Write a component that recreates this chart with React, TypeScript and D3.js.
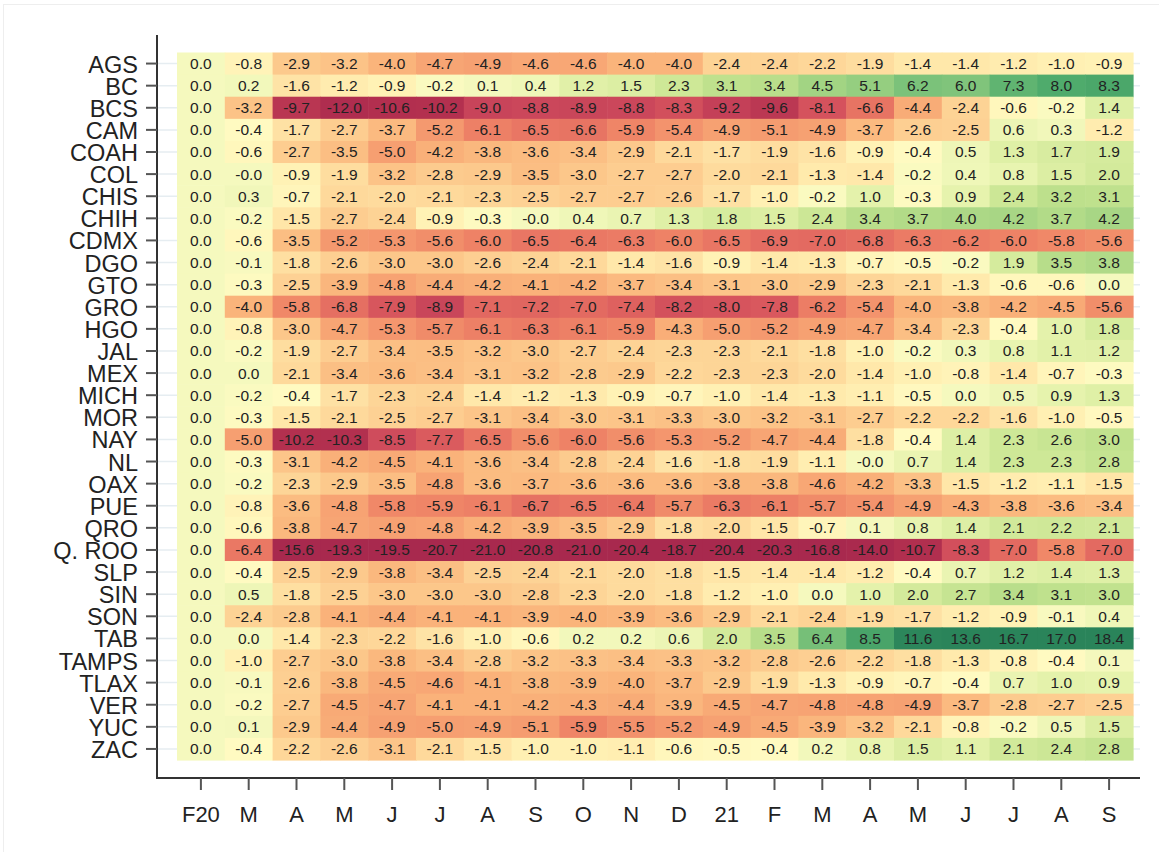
import React from "react";
import * as d3 from "d3";

// Row labels (states) and column labels (months, Feb 2020 – Sep 2021)
const states = [
  "AGS", "BC", "BCS", "CAM", "COAH", "COL", "CHIS", "CHIH", "CDMX", "DGO", "GTO",
  "GRO", "HGO", "JAL", "MEX", "MICH", "MOR", "NAY", "NL", "OAX", "PUE", "QRO",
  "Q. ROO", "SLP", "SIN", "SON", "TAB", "TAMPS", "TLAX", "VER", "YUC", "ZAC",
];
const months = ["F20", "M", "A", "M", "J", "J", "A", "S", "O", "N", "D", "21", "F", "M", "A", "M", "J", "J", "A", "S"];

// Percent change vs. February 2020, one array per state
const AGS = [0.0, -0.8, -2.9, -3.2, -4.0, -4.7, -4.9, -4.6, -4.6, -4.0, -4.0, -2.4, -2.4, -2.2, -1.9, -1.4, -1.4, -1.2, -1.0, -0.9];
const BC = [0.0, 0.2, -1.6, -1.2, -0.9, -0.2, 0.1, 0.4, 1.2, 1.5, 2.3, 3.1, 3.4, 4.5, 5.1, 6.2, 6.0, 7.3, 8.0, 8.3];
const BCS = [0.0, -3.2, -9.7, -12.0, -10.6, -10.2, -9.0, -8.8, -8.9, -8.8, -8.3, -9.2, -9.6, -8.1, -6.6, -4.4, -2.4, -0.6, -0.2, 1.4];
const CAM = [0.0, -0.4, -1.7, -2.7, -3.7, -5.2, -6.1, -6.5, -6.6, -5.9, -5.4, -4.9, -5.1, -4.9, -3.7, -2.6, -2.5, 0.6, 0.3, -1.2];
const COAH = [0.0, -0.6, -2.7, -3.5, -5.0, -4.2, -3.8, -3.6, -3.4, -2.9, -2.1, -1.7, -1.9, -1.6, -0.9, -0.4, 0.5, 1.3, 1.7, 1.9];
const COL = [0.0, -0.0, -0.9, -1.9, -3.2, -2.8, -2.9, -3.5, -3.0, -2.7, -2.7, -2.0, -2.1, -1.3, -1.4, -0.2, 0.4, 0.8, 1.5, 2.0];
const CHIS = [0.0, 0.3, -0.7, -2.1, -2.0, -2.1, -2.3, -2.5, -2.7, -2.7, -2.6, -1.7, -1.0, -0.2, 1.0, -0.3, 0.9, 2.4, 3.2, 3.1];
const CHIH = [0.0, -0.2, -1.5, -2.7, -2.4, -0.9, -0.3, -0.0, 0.4, 0.7, 1.3, 1.8, 1.5, 2.4, 3.4, 3.7, 4.0, 4.2, 3.7, 4.2];
const CDMX = [0.0, -0.6, -3.5, -5.2, -5.3, -5.6, -6.0, -6.5, -6.4, -6.3, -6.0, -6.5, -6.9, -7.0, -6.8, -6.3, -6.2, -6.0, -5.8, -5.6];
const DGO = [0.0, -0.1, -1.8, -2.6, -3.0, -3.0, -2.6, -2.4, -2.1, -1.4, -1.6, -0.9, -1.4, -1.3, -0.7, -0.5, -0.2, 1.9, 3.5, 3.8];
const GTO = [0.0, -0.3, -2.5, -3.9, -4.8, -4.4, -4.2, -4.1, -4.2, -3.7, -3.4, -3.1, -3.0, -2.9, -2.3, -2.1, -1.3, -0.6, -0.6, 0.0];
const GRO = [0.0, -4.0, -5.8, -6.8, -7.9, -8.9, -7.1, -7.2, -7.0, -7.4, -8.2, -8.0, -7.8, -6.2, -5.4, -4.0, -3.8, -4.2, -4.5, -5.6];
const HGO = [0.0, -0.8, -3.0, -4.7, -5.3, -5.7, -6.1, -6.3, -6.1, -5.9, -4.3, -5.0, -5.2, -4.9, -4.7, -3.4, -2.3, -0.4, 1.0, 1.8];
const JAL = [0.0, -0.2, -1.9, -2.7, -3.4, -3.5, -3.2, -3.0, -2.7, -2.4, -2.3, -2.3, -2.1, -1.8, -1.0, -0.2, 0.3, 0.8, 1.1, 1.2];
const MEX = [0.0, 0.0, -2.1, -3.4, -3.6, -3.4, -3.1, -3.2, -2.8, -2.9, -2.2, -2.3, -2.3, -2.0, -1.4, -1.0, -0.8, -1.4, -0.7, -0.3];
const MICH = [0.0, -0.2, -0.4, -1.7, -2.3, -2.4, -1.4, -1.2, -1.3, -0.9, -0.7, -1.0, -1.4, -1.3, -1.1, -0.5, 0.0, 0.5, 0.9, 1.3];
const MOR = [0.0, -0.3, -1.5, -2.1, -2.5, -2.7, -3.1, -3.4, -3.0, -3.1, -3.3, -3.0, -3.2, -3.1, -2.7, -2.2, -2.2, -1.6, -1.0, -0.5];
const NAY = [0.0, -5.0, -10.2, -10.3, -8.5, -7.7, -6.5, -5.6, -6.0, -5.6, -5.3, -5.2, -4.7, -4.4, -1.8, -0.4, 1.4, 2.3, 2.6, 3.0];
const NL = [0.0, -0.3, -3.1, -4.2, -4.5, -4.1, -3.6, -3.4, -2.8, -2.4, -1.6, -1.8, -1.9, -1.1, -0.0, 0.7, 1.4, 2.3, 2.3, 2.8];
const OAX = [0.0, -0.2, -2.3, -2.9, -3.5, -4.8, -3.6, -3.7, -3.6, -3.6, -3.6, -3.8, -3.8, -4.6, -4.2, -3.3, -1.5, -1.2, -1.1, -1.5];
const PUE = [0.0, -0.8, -3.6, -4.8, -5.8, -5.9, -6.1, -6.7, -6.5, -6.4, -5.7, -6.3, -6.1, -5.7, -5.4, -4.9, -4.3, -3.8, -3.6, -3.4];
const QRO = [0.0, -0.6, -3.8, -4.7, -4.9, -4.8, -4.2, -3.9, -3.5, -2.9, -1.8, -2.0, -1.5, -0.7, 0.1, 0.8, 1.4, 2.1, 2.2, 2.1];
const QROO = [0.0, -6.4, -15.6, -19.3, -19.5, -20.7, -21.0, -20.8, -21.0, -20.4, -18.7, -20.4, -20.3, -16.8, -14.0, -10.7, -8.3, -7.0, -5.8, -7.0];
const SLP = [0.0, -0.4, -2.5, -2.9, -3.8, -3.4, -2.5, -2.4, -2.1, -2.0, -1.8, -1.5, -1.4, -1.4, -1.2, -0.4, 0.7, 1.2, 1.4, 1.3];
const SIN = [0.0, 0.5, -1.8, -2.5, -3.0, -3.0, -3.0, -2.8, -2.3, -2.0, -1.8, -1.2, -1.0, 0.0, 1.0, 2.0, 2.7, 3.4, 3.1, 3.0];
const SON = [0.0, -2.4, -2.8, -4.1, -4.4, -4.1, -4.1, -3.9, -4.0, -3.9, -3.6, -2.9, -2.1, -2.4, -1.9, -1.7, -1.2, -0.9, -0.1, 0.4];
const TAB = [0.0, 0.0, -1.4, -2.3, -2.2, -1.6, -1.0, -0.6, 0.2, 0.2, 0.6, 2.0, 3.5, 6.4, 8.5, 11.6, 13.6, 16.7, 17.0, 18.4];
const TAMPS = [0.0, -1.0, -2.7, -3.0, -3.8, -3.4, -2.8, -3.2, -3.3, -3.4, -3.3, -3.2, -2.8, -2.6, -2.2, -1.8, -1.3, -0.8, -0.4, 0.1];
const TLAX = [0.0, -0.1, -2.6, -3.8, -4.5, -4.6, -4.1, -3.8, -3.9, -4.0, -3.7, -2.9, -1.9, -1.3, -0.9, -0.7, -0.4, 0.7, 1.0, 0.9];
const VER = [0.0, -0.2, -2.7, -4.5, -4.7, -4.1, -4.1, -4.2, -4.3, -4.4, -3.9, -4.5, -4.7, -4.8, -4.8, -4.9, -3.7, -2.8, -2.7, -2.5];
const YUC = [0.0, 0.1, -2.9, -4.4, -4.9, -5.0, -4.9, -5.1, -5.9, -5.5, -5.2, -4.9, -4.5, -3.9, -3.2, -2.1, -0.8, -0.2, 0.5, 1.5];
const ZAC = [0.0, -0.4, -2.2, -2.6, -3.1, -2.1, -1.5, -1.0, -1.0, -1.1, -0.6, -0.5, -0.4, 0.2, 0.8, 1.5, 1.1, 2.1, 2.4, 2.8];

const rowsData = [
  AGS, BC, BCS, CAM, COAH, COL, CHIS, CHIH, CDMX, DGO, GTO, GRO, HGO, JAL, MEX, MICH,
  MOR, NAY, NL, OAX, PUE, QRO, QROO, SLP, SIN, SON, TAB, TAMPS, TLAX, VER, YUC, ZAC,
];

// Diverging red–yellow–green ramp
const colorStops = [-15, -10, -9, -8, -7, -6, -5, -4, -3, -2, -1, -0.4, 0, 0.5, 1, 2, 3, 4, 5, 6, 8, 10, 12];
const colorValues = [
  "#a8294e", "#b3304f", "#c8445a", "#d6545d", "#e36a61", "#ee8266", "#f69f71", "#fab47b",
  "#fcc78a", "#fedb9d", "#fff0b3", "#fffac1", "#f5f9be", "#eef6b7", "#e4f2ab", "#d3ea9b",
  "#c1e28e", "#acd886", "#97cf80", "#80c47b", "#4fab6c", "#358e5f", "#2a845a",
];

const W = 1159;
const H = 852;
const FONT = "'Liberation Sans', Arial, Helvetica, sans-serif";

// One decimal, keeping the sign of negative zero
const fmt = (v: number) => (Object.is(v, -0) ? "-" : "") + v.toFixed(1);

export default function App() {
  const x = d3.scaleBand<number>().domain(d3.range(months.length)).range([177, 1133]);
  const y = d3.scaleBand<string>().domain(states).range([52.5, 760]);
  const color = d3
    .scaleLinear<string>()
    .domain(colorStops)
    .range(colorValues)
    .interpolate(d3.interpolateRgb)
    .clamp(true);

  const axisX = 157;
  const axisY = 778;
  const axisTop = 35;
  const plotRight = 1140;
  const bw = x.bandwidth();
  const bh = y.bandwidth();

  return (
    <svg
      width={W}
      height={H}
      style={{ position: "absolute", left: 0, top: 0, background: "#fff" }}
      fontFamily={FONT}
    >
      <rect x={3.5} y={4.5} width={W + 20} height={H + 20} fill="none" stroke="#eeeeee" />

      {/* horizontal gridlines */}
      {states.map((s) => (
        <line
          key={"g" + s}
          x1={axisX}
          x2={plotRight}
          y1={(y(s) as number) + bh / 2}
          y2={(y(s) as number) + bh / 2}
          stroke="#e6edf1"
          strokeWidth={1.5}
        />
      ))}

      {/* heatmap cells */}
      {rowsData.map((vals, r) =>
        vals.map((v, c) => (
          <rect
            key={`c${r}-${c}`}
            x={x(c) as number}
            y={y(states[r]) as number}
            width={bw + 0.6}
            height={bh + 0.6}
            fill={color(v)}
          />
        ))
      )}

      {/* cell labels */}
      {rowsData.map((vals, r) =>
        vals.map((v, c) => (
          <text
            key={`t${r}-${c}`}
            x={(x(c) as number) + bw / 2}
            y={(y(states[r]) as number) + bh / 2}
            textAnchor="middle"
            dominantBaseline="central"
            fontSize={15.5}
            fill="#222"
          >
            {fmt(v)}
          </text>
        ))
      )}

      {/* left axis */}
      <line x1={axisX} x2={axisX} y1={axisTop} y2={axisY + 1} stroke="#333" strokeWidth={2} />
      {states.map((s) => {
        const cy = (y(s) as number) + bh / 2;
        return (
          <g key={"yl" + s}>
            <line x1={axisX - 11} x2={axisX} y1={cy} y2={cy} stroke="#555" strokeWidth={2} />
            <text x={axisX - 19} y={cy + 1} textAnchor="end" dominantBaseline="central" fontSize={23.5} fill="#222">
              {s}
            </text>
          </g>
        );
      })}

      {/* bottom axis */}
      <line x1={axisX - 1} x2={plotRight} y1={axisY} y2={axisY} stroke="#333" strokeWidth={2} />
      {months.map((m, i) => {
        const cx = (x(i) as number) + bw / 2;
        return (
          <g key={"xl" + i}>
            <line x1={cx} x2={cx} y1={axisY} y2={axisY + 12} stroke="#555" strokeWidth={2} />
            <text x={cx} y={axisY + 36} textAnchor="middle" dominantBaseline="central" fontSize={22} fill="#222">
              {m}
            </text>
          </g>
        );
      })}
    </svg>
  );
}
